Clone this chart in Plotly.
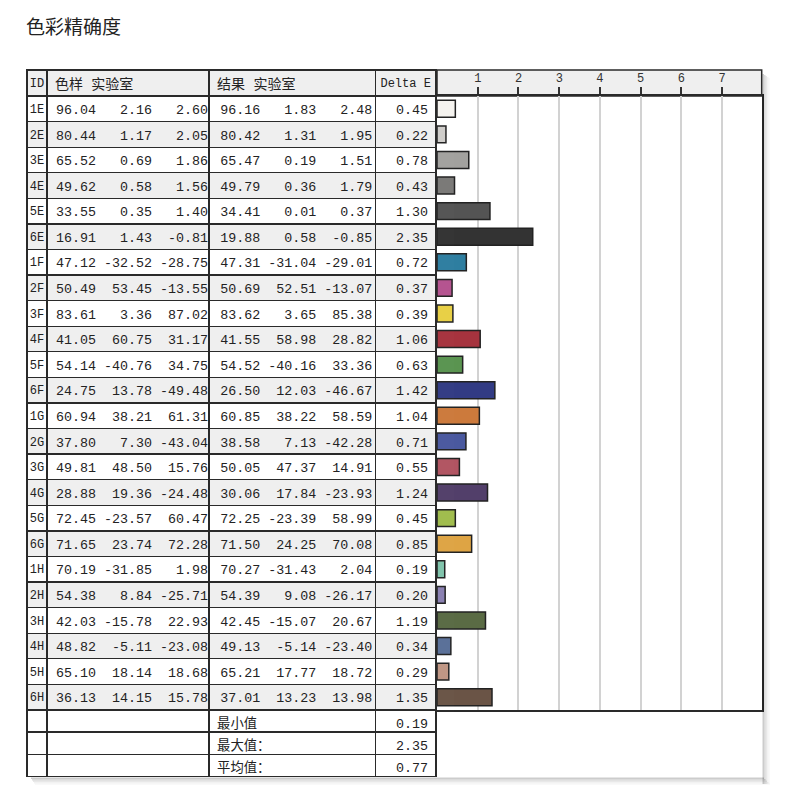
import plotly.graph_objects as go

# colour checker patches
ids = ["1E", "2E", "3E", "4E", "5E", "6E", "1F", "2F", "3F", "4F", "5F", "6F",
       "1G", "2G", "3G", "4G", "5G", "6G", "1H", "2H", "3H", "4H", "5H", "6H"]

sample_L = [96.04, 80.44, 65.52, 49.62, 33.55, 16.91, 47.12, 50.49, 83.61, 41.05, 54.14, 24.75,
            60.94, 37.80, 49.81, 28.88, 72.45, 71.65, 70.19, 54.38, 42.03, 48.82, 65.10, 36.13]
sample_a = [2.16, 1.17, 0.69, 0.58, 0.35, 1.43, -32.52, 53.45, 3.36, 60.75, -40.76, 13.78,
            38.21, 7.30, 48.50, 19.36, -23.57, 23.74, -31.85, 8.84, -15.78, -5.11, 18.14, 14.15]
sample_b = [2.60, 2.05, 1.86, 1.56, 1.40, -0.81, -28.75, -13.55, 87.02, 31.17, 34.75, -49.48,
            61.31, -43.04, 15.76, -24.48, 60.47, 72.28, 1.98, -25.71, 22.93, -23.08, 18.68, 15.78]

result_L = [96.16, 80.42, 65.47, 49.79, 34.41, 19.88, 47.31, 50.69, 83.62, 41.55, 54.52, 26.50,
            60.85, 38.58, 50.05, 30.06, 72.25, 71.50, 70.27, 54.39, 42.45, 49.13, 65.21, 37.01]
result_a = [1.83, 1.31, 0.19, 0.36, 0.01, 0.58, -31.04, 52.51, 3.65, 58.98, -40.16, 12.03,
            38.22, 7.13, 47.37, 17.84, -23.39, 24.25, -31.43, 9.08, -15.07, -5.14, 17.77, 13.23]
result_b = [2.48, 1.95, 1.51, 1.79, 0.37, -0.85, -29.01, -13.07, 85.38, 28.82, 33.36, -46.67,
            58.59, -42.28, 14.91, -23.93, 58.99, 70.08, 2.04, -26.17, 20.67, -23.40, 18.72, 13.98]

delta_e = [0.45, 0.22, 0.78, 0.43, 1.30, 2.35, 0.72, 0.37, 0.39, 1.06, 0.63, 1.42,
           1.04, 0.71, 0.55, 1.24, 0.45, 0.85, 0.19, 0.20, 1.19, 0.34, 0.29, 1.35]

patch_colors = ["#f5f3ef", "#cfcdca", "#a2a19e", "#7a7977", "#545454", "#333333",
                "#2e7ea0", "#b5528f", "#e8d044", "#a6333e", "#5a9450", "#323b84",
                "#cc7a3c", "#4a599f", "#b25462", "#523f6a", "#a0bd4c", "#dea444",
                "#80c4ac", "#8a80b2", "#5a6b44", "#5a7098", "#c09684", "#6a5446"]

header_labels = ["ID", "色样 实验室", "结果 实验室", "Delta E"]
summary_labels = ["最小值", "最大值：", "平均值："]
summary_values = [0.19, 2.35, 0.77]
x_ticks = [1, 2, 3, 4, 5, 6, 7]

W, H = 800, 804
NB = "\u00a0"


def px(v):
    return v / W


def py(v):
    return 1 - v / H


def lab(L, a, b):
    s = f"{L:5.2f}{a:7.2f}{b:7.2f}"
    return (NB + s).replace(" ", NB)


sample_txt = [lab(*t) for t in zip(sample_L, sample_a, sample_b)]
result_txt = [lab(*t) for t in zip(result_L, result_a, result_b)]
delta_txt = [f"{d:.2f}" for d in delta_e]
head_txt = [h.replace(" ", NB) for h in header_labels]

row_fill = ["#ffffff" if i % 2 == 0 else "#efefef" for i in range(len(ids))]
mono = "Liberation Mono, Noto Sans CJK SC, monospace"
line_col = "#2a2a2a"

fig = go.Figure()

# main table
fig.add_trace(go.Table(
    domain=dict(x=[px(27), px(437)], y=[py(712), py(70)]),
    columnwidth=[20, 163, 167, 61],
    header=dict(values=head_txt, height=26,
                fill_color="#efefef",
                line=dict(color=line_col, width=1.3),
                align=["center", "left", "left", "center"],
                font=dict(family=mono, size=[12, 14, 14, 12], color="#222")),
    cells=dict(values=[ids, sample_txt, result_txt, delta_txt], height=25.58,
               fill_color=[row_fill] * 4,
               line=dict(color=line_col, width=1.3),
               align=["center", "center", "center", "right"],
               font=dict(family=mono, size=[12, 13.33, 13.33, 13.33], color="#222")),
))

# summary rows
fig.add_trace(go.Table(
    domain=dict(x=[px(27), px(437)], y=[py(779), py(710)]),
    columnwidth=[20, 163, 167, 61],
    header=dict(values=["", "", summary_labels[0], f"{summary_values[0]:.2f}"], height=22,
                fill_color="white",
                line=dict(color=line_col, width=1.3),
                align=["center", "center", "left", "right"],
                font=dict(family=mono, size=13.33, color="#222")),
    cells=dict(values=[["", ""], ["", ""], summary_labels[1:],
                       [f"{v:.2f}" for v in summary_values[1:]]], height=22.4,
               fill_color="white",
               line=dict(color=line_col, width=1.3),
               align=["center", "center", "left", "right"],
               font=dict(family=mono, size=13.33, color="#222")),
))

# delta E bars
fig.add_trace(go.Bar(
    x=delta_e, y=ids, orientation="h",
    marker=dict(color=patch_colors, line=dict(color="#222", width=1.5)),
    width=0.66, hoverinfo="x+y",
))

shapes = [
    # grey header band over bar area
    dict(type="rect", xref="paper", yref="paper", x0=px(437), x1=px(761.7),
         y0=py(96), y1=py(70), fillcolor="#efefef", line=dict(color=line_col, width=1.5),
         layer="below"),
]
# soft drop shadow on right and bottom
for k, op in enumerate([0.2, 0.14, 0.09, 0.05, 0.025]):
    shapes.append(dict(type="rect", xref="paper", yref="paper",
                       x0=px(762.5 + k * 1.5), x1=px(764 + k * 1.5), y0=py(784), y1=py(74 + k),
                       fillcolor=f"rgba(0,0,0,{op})", line=dict(width=0)))
    shapes.append(dict(type="rect", xref="paper", yref="paper",
                       x0=px(31 + k), x1=px(764 + k * 1.5), y0=py(779 + k * 1.5), y1=py(777.5 + k * 1.5),
                       fillcolor=f"rgba(0,0,0,{op})", line=dict(width=0)))

fig.update_layout(
    width=W, height=H,
    margin=dict(l=0, r=0, t=0, b=0),
    paper_bgcolor="white", plot_bgcolor="white",
    showlegend=False,
    title=dict(text="色彩精确度", x=px(26), xanchor="left", y=py(27), yanchor="middle",
               font=dict(family="Noto Sans CJK SC", size=19, color="#222")),
    xaxis=dict(domain=[px(437), px(761.7)], range=[0, 7.97], side="top",
               tickvals=x_ticks, ticks="outside", ticklen=7, tickwidth=1.5, tickcolor="#333",
               tickfont=dict(family=mono, size=12, color="#333"),
               showgrid=True, gridcolor="#d2d2d2", gridwidth=1.5, zeroline=False,
               showline=True, mirror=True, linecolor=line_col, linewidth=1.5, fixedrange=True),
    yaxis=dict(domain=[py(710), py(96)], type="category", categoryorder="array",
               categoryarray=ids, range=[len(ids) - 0.5, -0.5], showticklabels=False,
               showgrid=False, zeroline=False, ticks="",
               showline=True, mirror=True, linecolor=line_col, linewidth=1.5, fixedrange=True),
    shapes=shapes,
)

fig.write_html("out.html", config={"displayModeBar": False},
               post_script="document.body.style.margin='0';")
